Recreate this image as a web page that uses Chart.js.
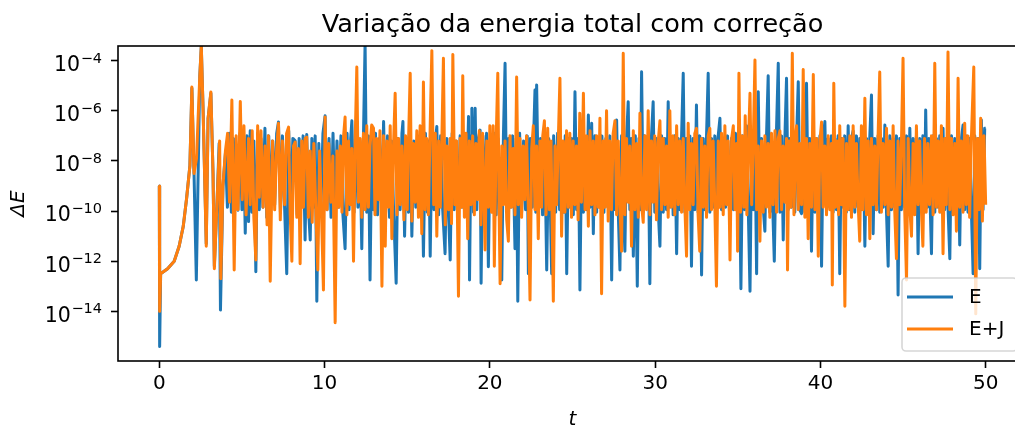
<!DOCTYPE html>
<html>
<head>
<meta charset="utf-8">
<title>Variação da energia total com correção</title>
<script src="https://cdn.jsdelivr.net/npm/chart.js@4.4.1/dist/chart.umd.min.js"></script>
<style>
  html, body { margin: 0; padding: 0; background: #fff; overflow: hidden; }
  #wrap { width: 1040px; height: 426px; }
</style>
</head>
<body>
<div id="wrap"><canvas id="chart" width="1040" height="426"></canvas></div>
<script>
// [t, log10(ΔE)]
const serieE = [
  [0,-9.0],[0.02,-15.4],[0.08,-12.5],[0.5,-12.3],[0.9,-12.0],[1.2,-11.4],[1.45,-10.6],[1.65,-9.5],[1.85,-8.2],[1.97,-5.1],
  [2.1,-8.5],[2.24,-12.75],[2.45,-4.6],[2.54,-3.45],[2.65,-6.0],[2.84,-11.3],[2.95,-6.3],[3.12,-5.3],[3.25,-8.5],[3.33,-12.2],
  [3.5,-9.5],[3.62,-7.3],[3.7,-13.95],[3.85,-9.0],
  [4.0,-7.7],[4.12,-9.85],[4.24,-6.9],[4.36,-10.05],[4.48,-7.1],[4.6,-9.75],[4.76,-9.96],[4.88,-6.9],[5.0,-9.95],[5.1,-7.1],
  [5.2,-10.88],[5.3,-7.0],[5.4,-10.42],[5.5,-6.8],[5.6,-10.05],[5.72,-7.2],[5.84,-12.42],[5.95,-6.9],[6.05,-9.95],
  [6.15,-7.1],[6.27,-9.85],[6.39,-6.7],[6.5,-10.25],[6.62,-7.0],[6.74,-9.95],[6.86,-7.2],[6.98,-9.75],[7.1,-6.9],[7.21,-6.45],
  [7.33,-10.05],[7.45,-7.0],[7.58,-9.85],[7.71,-12.5],[7.83,-6.8],[7.95,-9.95],[8.08,-7.1],[8.22,-7.2],[8.34,-10.15],[8.46,-7.1],
  [8.58,-9.85],[8.7,-7.0],[8.82,-11.15],[8.92,-6.95],[9.03,-9.95],[9.13,-11.15],[9.23,-7.1],[9.33,-9.85],[9.43,-7.0],[9.53,-13.6],
  [9.65,-7.3],[9.77,-10.05],[9.9,-6.9],[10.03,-6.2],[10.15,-9.95],[10.27,-7.1],[10.39,-10.25],[10.51,-6.9],[10.63,-10.05],[10.75,-7.2],
  [10.87,-9.85],[10.99,-7.0],[11.11,-10.15],[11.24,-11.5],[11.36,-6.9],[11.48,-9.95],[11.58,-7.1],[11.65,-6.4],[11.78,-10.05],[11.9,-7.0],
  [12.02,-9.85],[12.14,-7.2],[12.25,-11.5],[12.35,-7.1],[12.45,-3.3],[12.55,-10.05],[12.65,-7.0],[12.75,-12.75],[12.86,-7.1],
  [12.96,-9.95],[13.08,-6.9],[13.2,-10.15],[13.32,-7.1],[13.45,-9.85],[13.57,-6.43],[13.69,-10.05],[13.81,-7.0],[13.93,-10.25],[14.05,-7.2],
  [14.17,-9.85],[14.33,-12.88],[14.45,-7.1],[14.57,-9.95],[14.68,-6.9],[14.74,-6.43],[14.84,-11.0],[14.96,-7.1],[15.08,-10.05],[15.18,-7.0],
  [15.28,-11.0],[15.4,-7.2],[15.52,-9.85],[15.64,-7.0],[15.76,-10.15],[15.87,-7.1],[15.98,-11.8],[16.1,-6.9],[16.22,-10.05],[16.3,-7.2],
  [16.39,-11.8],[16.5,-7.0],[16.62,-9.95],[16.72,-7.1],[16.79,-6.63],[16.9,-10.15],[17.02,-7.0],[17.14,-9.85],[17.29,-11.7],[17.4,-7.1],
  [17.5,-10.05],[17.6,-11.95],[17.72,-6.9],[17.84,-9.95],[17.96,-7.2],[18.08,-10.05],[18.2,-7.0],[18.32,-9.85],[18.44,-7.1],[18.56,-10.15],
  [18.71,-6.23],[18.77,-12.75],[18.86,-7.0],[18.91,-5.9],[19.01,-10.05],[19.11,-5.9],[19.21,-9.95],[19.31,-7.1],[19.41,-6.77],[19.47,-12.88],
  [19.58,-7.0],[19.7,-10.05],[19.8,-6.9],[19.91,-12.22],
  [20.02,-7.1],[20.14,-9.95],[20.26,-6.9],[20.38,-10.15],[20.5,-7.1],[20.6,-9.85],[20.72,-12.75],[20.82,-7.0],[20.92,-4.1],[21.02,-10.05],
  [21.14,-7.1],[21.26,-9.85],[21.38,-7.0],[21.52,-11.5],[21.6,-7.1],[21.69,-13.6],[21.8,-6.9],[21.92,-10.05],[22.04,-7.2],[22.16,-9.95],
  [22.26,-7.0],[22.33,-12.5],[22.45,-7.1],[22.57,-9.85],[22.65,-7.0],[22.73,-5.17],[22.78,-10.05],[22.83,-4.97],[22.95,-9.95],[23.07,-7.1],
  [23.19,-10.15],[23.31,-7.0],[23.44,-12.35],[23.56,-7.1],[23.66,-9.85],[23.74,-12.5],[23.86,-7.0],[23.98,-10.05],[24.1,-6.9],[24.22,-9.95],
  [24.34,-7.2],[24.46,-10.05],[24.56,-7.0],[24.65,-12.5],[24.76,-7.1],[24.86,-9.85],[24.95,-7.1],[25.05,-10.15],[25.15,-5.24],[25.25,-9.95],
  [25.35,-7.1],[25.45,-13.15],[25.56,-6.9],[25.66,-10.05],[25.76,-7.1],[25.86,-9.95],[25.96,-6.17],[26.06,-9.85],[26.16,-6.5],[26.26,-10.9],
  [26.36,-7.0],[26.46,-10.05],[26.56,-7.1],[26.66,-9.85],
  [26.78,-7.0],[26.9,-10.05],[27.02,-7.1],[27.14,-9.85],[27.26,-7.0],[27.37,-12.75],[27.48,-7.1],[27.58,-9.95],[27.67,-6.37],[27.77,-10.05],
  [27.87,-12.35],[27.97,-7.0],[28.07,-9.85],[28.17,-11.6],[28.27,-7.1],[28.37,-5.64],[28.47,-9.95],[28.57,-7.1],[28.68,-11.8],[28.8,-7.0],
  [28.92,-13.0],[29.02,-7.1],[29.1,-9.95],[29.18,-4.44],[29.28,-10.05],[29.38,-7.0],[29.48,-9.85],[29.58,-7.1],[29.68,-12.9],[29.78,-7.0],
  [29.88,-5.64],[29.98,-10.05],[30.08,-7.1],[30.18,-9.85],[30.29,-11.4],[30.39,-7.0],[30.49,-10.05],[30.59,-7.1],[30.69,-9.95],[30.79,-5.64],
  [30.89,-9.85],[30.99,-7.1],[31.09,-10.15],[31.19,-7.0],[31.3,-11.7],[31.4,-7.1],[31.5,-9.95],[31.6,-7.0],[31.7,-4.5],[31.8,-10.05],
  [31.9,-7.1],[32.0,-9.85],[32.1,-7.0],[32.2,-12.2],[32.3,-7.1],[32.4,-9.95],[32.5,-5.77],[32.6,-10.05],[32.7,-7.0],[32.81,-12.55],
  [32.91,-7.1],[33.01,-9.95],[33.11,-7.0],[33.21,-4.5],[33.31,-10.05],[33.41,-7.1],[33.51,-9.85],[33.61,-7.0],[33.71,-10.15],[33.8,-7.1],
  [33.92,-6.3],
  [34.02,-9.95],[34.14,-7.1],[34.26,-9.85],[34.38,-7.0],[34.5,-10.05],[34.62,-7.1],[34.74,-9.95],[34.86,-6.9],[34.98,-10.05],[35.08,-7.1],
  [35.19,-13.1],[35.3,-7.0],[35.42,-9.95],[35.53,-6.6],[35.64,-10.05],[35.74,-13.2],[35.84,-7.1],[35.94,-9.95],[36.04,-7.0],[36.14,-12.5],
  [36.24,-5.24],[36.34,-10.05],[36.44,-7.1],[36.54,-9.85],[36.64,-10.8],[36.74,-7.0],[36.84,-4.6],[36.94,-10.05],[37.04,-7.1],[37.12,-9.95],
  [37.21,-12.0],[37.33,-7.1],[37.45,-4.1],[37.55,-10.05],[37.65,-7.0],[37.75,-11.15],[37.85,-7.1],[37.95,-4.7],[38.05,-9.95],[38.15,-7.1],
  [38.25,-9.85],[38.35,-7.0],[38.45,-10.05],[38.56,-7.1],[38.66,-4.84],[38.76,-9.95],[38.86,-10.1],[38.96,-7.0],[39.06,-10.05],[39.16,-4.9],
  [39.26,-9.85],[39.36,-7.1],[39.46,-11.6],[39.57,-7.0],[39.67,-10.05],[39.77,-7.1],[39.87,-9.85],[39.97,-7.0],[40.07,-12.2],[40.17,-7.1],
  [40.27,-6.43],[40.37,-9.95],[40.47,-7.1],[40.57,-9.85],[40.67,-7.0],[40.77,-10.05],
  [40.87,-7.1],[40.97,-9.95],[41.07,-7.0],[41.17,-12.5],[41.27,-7.1],[41.37,-9.85],[41.47,-7.0],[41.57,-10.05],[41.68,-6.6],[41.78,-9.95],
  [41.88,-7.1],[41.98,-6.8],[42.08,-10.05],[42.18,-7.0],[42.28,-9.85],[42.38,-7.1],[42.48,-9.95],[42.58,-7.0],[42.69,-11.4],[42.79,-7.1],
  [42.89,-10.05],[42.99,-7.0],[43.09,-5.37],[43.19,-10.9],[43.29,-7.1],[43.39,-9.95],[43.49,-7.0],[43.59,-10.05],[43.7,-7.1],[43.8,-9.85],
  [43.9,-6.57],[44.0,-10.05],[44.1,-12.2],[44.2,-7.0],[44.3,-9.95],[44.4,-7.1],[44.5,-9.85],[44.6,-7.0],[44.7,-13.35],[44.8,-7.1],
  [44.9,-9.95],[45.0,-7.1],[45.1,-9.85],[45.21,-7.0],[45.31,-10.05],[45.41,-6.7],[45.51,-9.95],[45.61,-7.1],[45.71,-9.85],[45.81,-7.0],
  [45.91,-11.7],[46.01,-7.1],[46.11,-9.95],[46.2,-7.0],[46.29,-10.05],[46.37,-5.97],[46.47,-9.85],[46.57,-7.1],[46.65,-9.95],[46.72,-11.7],
  [46.82,-7.0],[46.92,-10.05],[47.02,-7.1],[47.12,-9.85],[47.22,-7.0],[47.32,-10.05],[47.42,-6.7],[47.52,-9.95],[47.62,-7.1],[47.72,-9.85],
  [47.83,-11.9],[47.93,-7.0],[48.03,-10.05],[48.13,-7.1],[48.23,-9.85],[48.33,-7.0],[48.43,-11.35],[48.53,-7.1],[48.63,-6.57],[48.73,-9.95],
  [48.83,-7.0],[48.93,-10.05],[49.03,-7.1],[49.13,-9.85],[49.24,-12.5],[49.34,-7.0],[49.44,-10.05],[49.54,-7.1],[49.64,-12.3],[49.74,-6.37],
  [49.84,-9.95],[49.94,-6.7],[50.0,-6.7]
];

const serieEJ = [
  [0,-9.0],[0.02,-14.0],[0.08,-12.5],[0.5,-12.3],[0.9,-12.0],[1.2,-11.4],[1.45,-10.6],[1.65,-9.5],[1.85,-8.2],[1.97,-5.05],
  [2.1,-8.5],[2.25,-7.9],[2.45,-4.6],[2.54,-3.4],[2.65,-6.0],[2.84,-11.4],[2.95,-6.3],[3.12,-5.25],[3.25,-8.5],[3.33,-12.3],
  [3.5,-9.5],[3.65,-7.2],[3.72,-12.7],[3.85,-9.0],
  [4.0,-7.6],[4.13,-6.9],[4.25,-9.65],[4.39,-5.57],[4.53,-12.35],[4.65,-7.0],[4.76,-9.95],[4.9,-5.63],[5.02,-9.55],[5.12,-6.6],
  [5.25,-10.15],[5.4,-7.1],[5.5,-9.75],[5.62,-6.8],[5.72,-10.25],[5.84,-11.95],[5.95,-6.6],
  [6.05,-9.45],[6.15,-6.8],[6.28,-9.85],[6.4,-7.4],[6.52,-10.55],[6.6,-7.0],[6.71,-12.8],[6.85,-7.2],[6.98,-9.95],[7.1,-7.5],
  [7.21,-6.5],[7.32,-10.35],[7.45,-7.2],[7.58,-9.75],[7.7,-6.9],[7.82,-6.65],[7.92,-10.15],[8.02,-12.0],[8.12,-7.4],[8.22,-7.25],
  [8.32,-10.25],[8.42,-7.5],[8.52,-12.1],[8.62,-7.2],[8.72,-9.85],[8.82,-7.1],[8.92,-7.05],[9.02,-10.25],[9.13,-7.6],[9.25,-10.45],
  [9.35,-7.3],[9.47,-9.95],[9.59,-12.35],[9.7,-7.6],[9.8,-9.75],[9.93,-13.15],[10.03,-6.25],[10.15,-9.95],[10.25,-7.3],[10.38,-9.65],
  [10.5,-7.8],[10.64,-14.45],[10.75,-7.6],[10.85,-9.85],[10.95,-7.4],[11.05,-10.05],[11.15,-7.0],[11.24,-6.25],[11.35,-10.15],[11.45,-7.2],
  [11.55,-9.75],[11.65,-7.5],[11.75,-12.0],[11.85,-7.2],[11.95,-4.25],[12.05,-9.65],[12.15,-7.1],[12.25,-10.25],[12.35,-6.9],[12.45,-9.95],
  [12.55,-6.6],[12.65,-9.85],[12.75,-7.4],[12.85,-6.57],[12.96,-6.7],[13.05,-10.15],
  [13.15,-7.1],[13.25,-9.55],[13.35,-6.8],[13.47,-13.0],[13.57,-7.0],[13.67,-11.4],[13.77,-7.2],[13.87,-9.85],[13.97,-6.6],[14.07,-11.1],
  [14.17,-7.4],[14.27,-5.3],[14.38,-10.15],[14.48,-7.1],[14.58,-9.75],[14.68,-7.4],[14.8,-10.35],[14.9,-7.0],[15.0,-9.95],[15.08,-7.2],
  [15.18,-4.5],[15.28,-10.4],[15.38,-7.3],[15.48,-9.65],[15.58,-6.8],[15.68,-10.25],[15.78,-6.6],[15.88,-10.9],[15.98,-4.85],[16.08,-9.95],
  [16.18,-7.1],[16.28,-10.15],[16.39,-6.6],[16.49,-3.6],[16.6,-9.75],[16.7,-6.9],[16.79,-11.0],[16.9,-7.2],[17.0,-9.85],[17.1,-7.0],
  [17.19,-3.9],[17.3,-10.55],[17.4,-7.4],[17.5,-9.95],[17.6,-7.1],[17.68,-10.5],[17.76,-3.75],[17.88,-9.75],[17.98,-7.2],[18.1,-13.4],
  [18.2,-7.1],[18.28,-9.85],[18.36,-4.6],[18.46,-10.25],[18.56,-6.9],[18.66,-11.1],[18.76,-7.2],[18.86,-9.75],[18.96,-7.0],[19.06,-10.15],
  [19.16,-7.3],[19.26,-9.55],[19.36,-6.8],[19.46,-10.55],[19.56,-6.9],[19.71,-11.55],[19.81,-7.2],[19.91,-9.85],
  [20.0,-6.6],[20.1,-10.05],[20.2,-6.6],[20.27,-12.2],[20.38,-7.2],[20.48,-4.5],[20.56,-9.95],[20.62,-12.9],[20.72,-7.4],[20.82,-9.75],
  [20.92,-7.2],[21.02,-10.35],[21.12,-11.2],[21.22,-7.0],[21.32,-9.85],[21.42,-7.5],[21.52,-10.15],[21.62,-4.65],[21.72,-9.75],[21.82,-7.1],
  [21.92,-10.25],[22.02,-7.4],[22.12,-9.55],[22.22,-7.0],[22.33,-9.95],[22.43,-13.55],[22.53,-7.5],[22.63,-6.6],[22.73,-9.95],[22.83,-7.4],
  [22.93,-11.1],[23.03,-7.2],[23.13,-9.85],[23.2,-7.0],[23.3,-6.4],[23.4,-10.15],[23.5,-6.7],[23.6,-9.95],[23.7,-7.2],[23.84,-13.6],
  [23.94,-7.4],[24.04,-9.75],[24.14,-7.2],[24.24,-4.7],[24.34,-11.0],[24.44,-7.2],[24.54,-10.05],[24.64,-6.8],[24.74,-9.85],[24.84,-6.9],
  [24.94,-10.25],[25.04,-7.2],[25.14,-9.75],[25.24,-7.4],[25.34,-10.35],[25.44,-6.1],[25.54,-9.65],[25.66,-5.3],[25.76,-9.95],[25.86,-7.0],
  [25.96,-10.6],[26.06,-6.8],[26.16,-9.75],[26.26,-7.2],[26.36,-10.15],[26.46,-7.0],[26.56,-9.85],[26.66,-6.3],[26.76,-13.3],
  [26.86,-7.2],[26.96,-9.85],[27.06,-6.0],[27.16,-10.4],[27.26,-7.2],[27.36,-9.95],[27.46,-6.9],[27.57,-6.4],[27.67,-10.15],[27.77,-7.2],
  [27.87,-9.85],[27.97,-11.6],[28.07,-3.7],[28.17,-10.15],[28.27,-7.1],[28.37,-9.65],[28.47,-7.4],[28.57,-11.4],[28.68,-6.8],[28.78,-9.95],
  [28.88,-7.3],[28.98,-10.25],[29.08,-6.1],[29.18,-9.75],[29.28,-10.45],[29.38,-7.0],[29.48,-9.95],[29.58,-6.0],[29.68,-10.15],[29.78,-7.2],
  [29.88,-9.65],[29.98,-7.0],[30.08,-10.35],[30.18,-7.3],[30.29,-6.4],[30.39,-9.95],[30.49,-7.1],[30.59,-9.75],[30.69,-7.4],[30.79,-10.25],
  [30.89,-6.0],[30.99,-9.85],[31.09,-7.0],[31.19,-10.15],[31.3,-6.6],[31.4,-9.75],[31.5,-7.2],[31.6,-10.05],[31.7,-7.1],[31.8,-9.85],
  [31.9,-11.8],[32.0,-6.5],[32.1,-9.95],[32.2,-7.3],[32.3,-9.75],[32.4,-6.9],[32.5,-6.7],[32.6,-10.15],[32.7,-11.6],[32.81,-7.1],
  [32.91,-9.85],[33.01,-7.4],[33.11,-10.25],[33.21,-7.0],[33.31,-6.7],[33.41,-9.95],[33.51,-7.2],[33.61,-9.75],[33.71,-13.0],
  [33.82,-7.2],[33.92,-9.85],[34.02,-6.9],[34.12,-10.15],[34.22,-6.6],[34.32,-9.75],[34.42,-7.2],[34.53,-11.95],[34.63,-7.1],[34.73,-6.6],
  [34.83,-9.95],[34.93,-7.3],[34.99,-11.6],[35.07,-4.5],[35.17,-10.05],[35.27,-7.0],[35.37,-9.85],[35.45,-6.2],[35.55,-10.15],[35.65,-7.2],
  [35.74,-5.3],[35.84,-9.75],[35.94,-7.2],[36.04,-3.97],[36.14,-9.95],[36.24,-7.4],[36.34,-11.2],[36.44,-7.2],[36.54,-10.05],[36.64,-7.0],
  [36.74,-9.85],[36.84,-7.3],[36.94,-10.25],[37.04,-6.9],[37.14,-9.75],[37.25,-6.8],[37.35,-10.05],[37.45,-7.1],[37.55,-6.8],[37.65,-9.95],
  [37.75,-7.4],[37.85,-9.65],[37.95,-7.1],[38.01,-12.35],[38.1,-7.2],[38.2,-9.85],[38.3,-3.7],[38.4,-10.15],[38.5,-7.0],[38.56,-6.6],
  [38.66,-9.95],[38.76,-7.3],[38.86,-9.75],[38.96,-4.35],[39.06,-10.25],[39.16,-7.1],[39.26,-11.1],[39.36,-7.3],[39.46,-9.85],[39.57,-4.55],
  [39.67,-9.95],[39.77,-7.1],[39.87,-11.8],[39.97,-7.2],[40.07,-6.45],[40.17,-9.85],[40.27,-7.4],[40.37,-10.15],[40.47,-7.0],[40.57,-9.95],
  [40.67,-7.3],[40.72,-12.95],[40.81,-4.9],
  [40.91,-9.85],[41.01,-7.2],[41.1,-10.15],[41.17,-6.6],[41.27,-9.75],[41.37,-7.1],[41.48,-13.8],[41.58,-7.3],[41.68,-9.95],[41.78,-7.0],
  [41.88,-10.25],[41.98,-6.6],[42.08,-9.85],[42.18,-7.3],[42.28,-9.65],[42.38,-11.2],[42.48,-6.6],[42.58,-9.95],[42.69,-5.5],[42.79,-10.15],
  [42.89,-7.2],[42.99,-11.1],[43.09,-7.1],[43.19,-9.75],[43.29,-7.4],[43.39,-9.95],[43.49,-7.0],[43.59,-4.45],[43.69,-10.05],[43.79,-7.3],
  [43.9,-9.75],[44.0,-6.7],[44.1,-10.15],[44.2,-7.2],[44.3,-9.85],[44.4,-6.6],[44.5,-10.05],[44.6,-11.9],[44.7,-7.2],[44.8,-9.75],
  [44.9,-7.4],[45.0,-3.9],[45.1,-9.95],[45.21,-12.75],[45.31,-7.1],[45.41,-9.85],[45.51,-11.0],[45.61,-7.3],[45.71,-10.15],[45.81,-6.6],
  [45.91,-9.75],[46.01,-7.2],[46.11,-9.95],[46.2,-11.4],[46.3,-7.1],[46.4,-10.05],[46.5,-7.3],[46.6,-9.75],[46.72,-7.0],[46.82,-10.15],
  [46.92,-4.1],[47.02,-9.85],[47.12,-7.2],[47.22,-10.05],[47.32,-6.6],[47.42,-11.7],[47.52,-7.1],[47.62,-9.75],[47.72,-3.65],[47.83,-9.95],
  [47.93,-7.1],[48.03,-10.15],[48.13,-7.3],[48.23,-10.8],[48.33,-4.7],[48.43,-9.85],[48.53,-7.2],[48.63,-10.05],[48.73,-6.5],[48.83,-9.75],
  [48.93,-7.0],[49.03,-10.25],[49.13,-7.2],[49.28,-4.25],[49.4,-14.1],[49.5,-7.1],[49.6,-9.95],[49.7,-6.3],[49.8,-10.4],[49.9,-7.0],
  [50.0,-9.75]
];

const xTicks = [0, 10, 20, 30, 40, 50];
const yExpoentes = [-14, -12, -10, -8, -6, -4];

const FONT = "'DejaVu Sans', sans-serif";
const toPoints = s => s.map(p => ({ x: p[0], y: Math.pow(10, p[1]) }));

// moldura, rótulos 10^n do eixo y e legenda no canto inferior direito
const extras = {
  id: 'extras',
  afterDraw(chart) {
    const { ctx, chartArea: a } = chart;
    const ys = chart.scales.y;
    ctx.save();
    ctx.strokeStyle = '#000';
    ctx.lineWidth = 1.6;
    ctx.strokeRect(a.left, a.top, a.right - a.left, a.bottom - a.top);

    // rótulos do eixo y com expoente sobrescrito
    ctx.fillStyle = '#000';
    ctx.textBaseline = 'alphabetic';
    ctx.textAlign = 'left';
    const xr = 101.5;
    yExpoentes.forEach(e => {
      const y = ys.getPixelForValue(Math.pow(10, e));
      const sup = '\u2212' + Math.abs(e);
      ctx.font = '14.5px ' + FONT;
      const wSup = ctx.measureText(sup).width;
      ctx.font = '20.5px ' + FONT;
      const wBase = ctx.measureText('10').width;
      const x0 = xr - wSup - wBase;
      ctx.fillText('10', x0, y + 10.4);
      ctx.font = '14.5px ' + FONT;
      ctx.fillText(sup, x0 + wBase + 0.5, y + 2);
    });

    // legenda
    const bx = 902, by = 278, bw = 115, bh = 73, r = 4;
    ctx.beginPath();
    ctx.roundRect(bx, by, bw, bh, r);
    ctx.fillStyle = 'rgba(255,255,255,0.8)';
    ctx.fill();
    ctx.lineWidth = 1.6;
    ctx.strokeStyle = 'rgba(204,204,204,0.8)';
    ctx.stroke();

    chart.data.datasets.forEach((ds, i) => {
      const y = by + 19 + i * 32;
      ctx.beginPath();
      ctx.moveTo(bx + 5, y);
      ctx.lineTo(bx + 51, y);
      ctx.strokeStyle = ds.borderColor;
      ctx.lineWidth = 3;
      ctx.stroke();
      ctx.fillStyle = '#000';
      ctx.font = '20px ' + FONT;
      ctx.textBaseline = 'middle';
      ctx.fillText(ds.label, bx + 67, y + 1);
    });
    ctx.restore();
  }
};

new Chart(document.getElementById('chart'), {
  type: 'line',
  data: {
    datasets: [
      { label: 'E', data: toPoints(serieE), borderColor: '#1f77b4', order: 2 },
      { label: 'E+J', data: toPoints(serieEJ), borderColor: '#ff7f0e', order: 1 }
    ]
  },
  options: {
    responsive: false,
    animation: false,
    layout: { padding: { left: 0, right: 13, top: 0, bottom: 0 } },
    elements: {
      line: { borderWidth: 3, tension: 0, fill: false, borderJoinStyle: 'round' },
      point: { radius: 0, hoverRadius: 0 }
    },
    datasets: { line: { clip: 0 } },
    plugins: {
      legend: { display: false },
      tooltip: { enabled: false },
      title: {
        display: true,
        text: 'Variação da energia total com correção',
        fullSize: false,
        color: '#000',
        font: { family: FONT, size: 25.5, weight: 'normal', lineHeight: 1.2 },
        padding: { top: 10.4, bottom: 5 }
      }
    },
    scales: {
      x: {
        type: 'linear',
        min: -2.5,
        max: 52.5,
        afterBuildTicks: s => { s.ticks = xTicks.map(v => ({ value: v })); },
        afterFit: s => { s.height = 65; },
        ticks: { color: '#000', font: { family: FONT, size: 20 }, padding: 4, maxRotation: 0, autoSkip: false },
        grid: { display: true, drawOnChartArea: false, drawTicks: true, tickLength: 7, tickWidth: 1.6, tickColor: '#000' },
        border: { display: false },
        title: {
          display: true, text: 't', color: '#000',
          font: { family: FONT, size: 20, style: 'italic', lineHeight: 0.6 },
          padding: { top: 0, bottom: 0 }
        }
      },
      y: {
        type: 'logarithmic',
        min: Math.pow(10, -15.98),
        max: Math.pow(10, -3.415),
        afterBuildTicks: s => { s.ticks = yExpoentes.map(e => ({ value: Math.pow(10, e) })); },
        afterFit: s => { s.width = 118; },
        ticks: { display: false },
        grid: { display: true, drawOnChartArea: false, drawTicks: true, tickLength: 7, tickWidth: 1.6, tickColor: '#000' },
        border: { display: false },
        title: {
          display: true, text: 'ΔE', color: '#000',
          font: { family: FONT, size: 20, style: 'italic', lineHeight: 1.2 },
          padding: { top: 7, bottom: 0 }
        }
      }
    }
  },
  plugins: [extras]
});
</script>
</body>
</html>
